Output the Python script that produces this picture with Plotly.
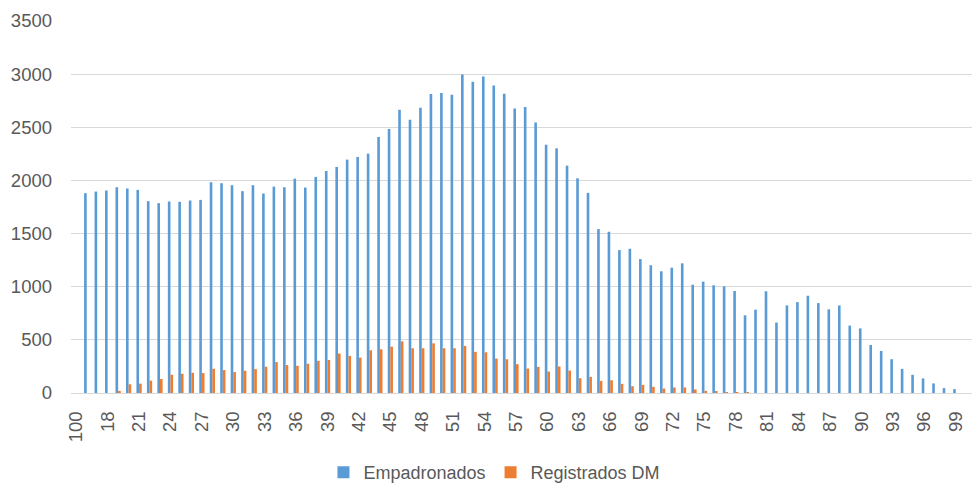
import plotly.graph_objects as go

categories = ["100"] + [str(a) for a in range(16, 100)]

empadronados = [
    0, 1880, 1895, 1905, 1936, 1924, 1911, 1805, 1786, 1802,
    1799, 1811, 1817, 1983, 1974, 1955, 1899, 1955, 1877, 1942,
    1936, 2017, 1933, 2033, 2089, 2127, 2196, 2221, 2252, 2409,
    2484, 2665, 2571, 2684, 2812, 2822, 2806, 2996, 2928, 2977,
    2893, 2815, 2677, 2690, 2546, 2336, 2302, 2139, 2020, 1883,
    1542, 1517, 1345, 1357, 1260, 1202, 1145, 1179, 1220, 1019,
    1048, 1013, 1004, 960, 731, 784, 957, 663, 824, 855,
    915, 846, 787, 824, 634, 608, 452, 396, 318, 227,
    171, 137, 90, 46, 36,
]

registrados = [
    0, 0, 0, 0, 20, 82, 88, 116, 131, 172,
    181, 190, 187, 228, 216, 197, 209, 225, 247, 291,
    263, 256, 275, 303, 311, 371, 349, 333, 402, 411,
    436, 486, 421, 421, 467, 421, 421, 443, 387, 383,
    324, 317, 271, 230, 246, 202, 249, 211, 139, 152,
    114, 120, 86, 64, 77, 58, 42, 52, 52, 33,
    20, 14, 5, 4, 3, 0, 0, 0, 0, 0,
    0, 0, 0, 0, 0, 0, 0, 0, 0, 0,
    0, 0, 0, 0, 0,
]

tick_labels = categories[::3]

fig = go.Figure()
fig.add_trace(go.Bar(x=categories, y=empadronados, name="Empadronados",
                     marker=dict(color="#5B9BD5", line=dict(width=0))))
fig.add_trace(go.Bar(x=categories, y=registrados, name="Registrados DM",
                     marker=dict(color="#ED7D31", line=dict(width=0))))

font_family = "Liberation Sans, Arial, sans-serif"
fs = 18.5

fig.update_layout(
    width=972, height=484,
    margin=dict(l=71, r=0, t=21, b=90.5, autoexpand=False),
    paper_bgcolor="white", plot_bgcolor="white",
    barmode="group", bargap=0.5, bargroupgap=0,
    font=dict(family=font_family, size=fs, color="#595959"),
    showlegend=True,
    legend=dict(orientation="h", x=0.470, xanchor="center",
                y=-0.214, yanchor="middle", xref="paper", yref="paper",
                font=dict(size=18, color="#595959"),
                itemwidth=30, traceorder="normal"),
    xaxis=dict(type="category", range=[-0.5, 85.55], automargin=False,
               tickmode="array", tickvals=tick_labels, ticktext=tick_labels,
               tickangle=-90, showgrid=False, showline=False,
               ticks="outside", ticklen=10, tickcolor="rgba(0,0,0,0)",
               zeroline=False, tickfont=dict(size=fs, color="#595959")),
    yaxis=dict(range=[0, 3500], dtick=500, showgrid=True, gridcolor="#d9d9d9",
               gridwidth=1, zeroline=True, zerolinecolor="#d9d9d9", zerolinewidth=1,
               showline=False, ticks="", ticklabelstandoff=18, automargin=False,
               tickfont=dict(size=fs, color="#595959")),
)

fig.write_html(
    "out.html",
    config={"displayModeBar": False},
    post_script="document.body.style.margin='0';document.body.style.overflow='hidden';",
)
